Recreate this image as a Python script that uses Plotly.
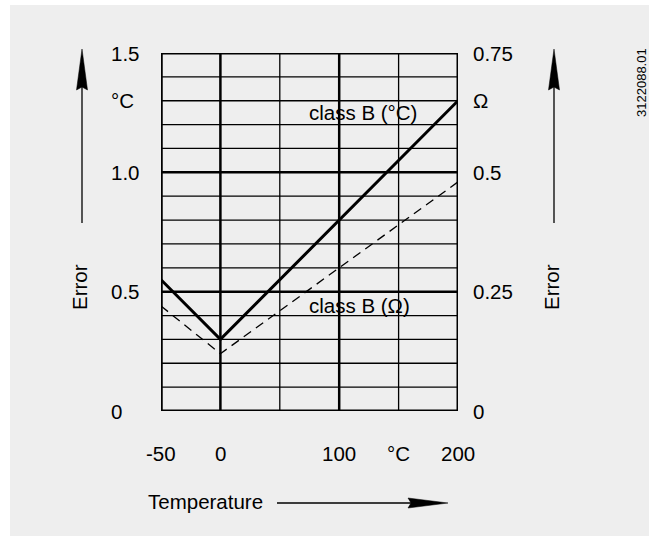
import plotly.graph_objects as go

# ---- data ----
temp = [-50, 0, 200]                 # °C
tol_degC = [0.55, 0.30, 1.30]        # class B tolerance in °C (left axis)
tol_ohm = [0.22, 0.12, 0.48]         # class B tolerance in Ω (right axis)

x_tick_vals = [-50, 0, 100, 150, 200]
x_tick_text = ["-50", "0", "100", "°C", "200"]
yl_tick_vals = [0, 0.5, 1.0, 1.3, 1.5]
yl_tick_text = ["0", "0.5", "1.0", "°C", "1.5"]
yr_tick_vals = [0, 0.25, 0.5, 0.65, 0.75]
yr_tick_text = ["0", "0.25", "0.5", "Ω", "0.75"]

x_grid = [-50, 0, 50, 100, 150, 200]
x_grid_w = [3.5, 2.5, 1.3, 2.5, 1.3, 3]
y_grid = [round(i * 0.1, 1) for i in range(16)]

FONT = "Liberation Sans, Arial, Helvetica, sans-serif"
FS = 20.5
BG = "#eeeeee"
W, H = 649, 536
L, R, T, B = 161, 458, 53, 411   # plot area in pixels


def px(xp):
    return (xp - L) / (R - L)


def py(yp):
    return (B - yp) / (B - T)


fig = go.Figure()

fig.add_trace(go.Scatter(x=temp, y=tol_degC, mode="lines",
                         line=dict(color="black", width=3), showlegend=False,
                         cliponaxis=False))
fig.add_trace(go.Scatter(x=temp, y=tol_ohm, mode="lines", yaxis="y2",
                         line=dict(color="black", width=1.3, dash="9px,6px"),
                         showlegend=False))

shapes = []
# white margins at left and top
shapes.append(dict(type="rect", xref="paper", yref="paper", layer="below",
                   x0=px(-5), x1=px(10), y0=py(H + 5), y1=py(-5),
                   fillcolor="white", line=dict(width=0)))
shapes.append(dict(type="rect", xref="paper", yref="paper", layer="below",
                   x0=px(-5), x1=px(W + 5), y0=py(5), y1=py(-5),
                   fillcolor="white", line=dict(width=0)))
# grid
for xv, w in zip(x_grid, x_grid_w):
    shapes.append(dict(type="line", xref="x", yref="y", x0=xv, x1=xv,
                       y0=0, y1=1.5, line=dict(color="black", width=w)))
for yv in y_grid:
    if yv in (0.0, 1.5):
        w = 3
    elif yv in (0.5, 1.0):
        w = 2.5
    else:
        w = 1.3
    shapes.append(dict(type="line", xref="x", yref="y", x0=-50, x1=200,
                       y0=yv, y1=yv, line=dict(color="black", width=w)))


# arrows (lines + filled heads)
def vert_arrow(xp):
    shapes.append(dict(type="line", xref="paper", yref="paper",
                       x0=px(xp), x1=px(xp), y0=py(223), y1=py(85),
                       line=dict(color="black", width=1.3)))
    shapes.append(dict(type="path", xref="paper", yref="paper",
                       path=f"M {px(xp)},{py(49)} L {px(xp-5.5)},{py(90)} "
                            f"L {px(xp)},{py(87)} L {px(xp+5.5)},{py(90)} Z",
                       fillcolor="black", line=dict(color="black", width=0.5)))


vert_arrow(82)
vert_arrow(554)
shapes.append(dict(type="line", xref="paper", yref="paper",
                   x0=px(277), x1=px(412), y0=py(503), y1=py(503),
                   line=dict(color="black", width=1.3)))
shapes.append(dict(type="path", xref="paper", yref="paper",
                   path=f"M {px(448)},{py(503)} L {px(408)},{py(498)} "
                        f"L {px(411)},{py(503)} L {px(408)},{py(508)} Z",
                   fillcolor="black", line=dict(color="black", width=0.5)))

ann = []
for v, t in zip(yl_tick_vals, yl_tick_text):
    ann.append(dict(xref="paper", yref="y", x=px(109), y=v, text=t,
                    showarrow=False, xanchor="left", yanchor="middle",
                    font=dict(size=FS)))
for v, t in zip(yr_tick_vals, yr_tick_text):
    ann.append(dict(xref="paper", yref="y2", x=px(471), y=v, text=t,
                    showarrow=False, xanchor="left", yanchor="middle",
                    font=dict(size=FS)))
for v, t in zip(x_tick_vals, x_tick_text):
    ann.append(dict(xref="x", yref="paper", x=v, y=py(453), text=t,
                    showarrow=False, xanchor="center", yanchor="middle",
                    font=dict(size=FS)))

C = dict(showarrow=False, xanchor="center", yanchor="middle")
ann += [
    dict(xref="x", yref="y", x=120, y=1.25, text="class B (°C)",
         font=dict(size=FS), **C),
    dict(xref="x", yref="y", x=117, y=0.44, text="class B (Ω)",
         font=dict(size=FS), **C),
    dict(xref="paper", yref="paper", x=px(79), y=py(287), text="Error",
         textangle=-90, font=dict(size=FS), **C),
    dict(xref="paper", yref="paper", x=px(551), y=py(287), text="Error",
         textangle=-90, font=dict(size=FS), **C),
    dict(xref="paper", yref="paper", x=px(205), y=py(501), text="Temperature",
         font=dict(size=FS), **C),
    dict(xref="paper", yref="paper", x=px(642), y=py(83), text="3122088.01",
         textangle=-90, font=dict(size=13), **C),
]

fig.update_layout(
    width=W, height=H,
    margin=dict(l=L, r=W - R, t=T, b=H - B, pad=0),
    paper_bgcolor=BG, plot_bgcolor="rgba(0,0,0,0)",
    font=dict(family=FONT, color="black", size=FS),
    xaxis=dict(range=[-50, 200], showgrid=False, zeroline=False,
               showticklabels=False, ticks="", fixedrange=True),
    yaxis=dict(range=[0, 1.5], showgrid=False, zeroline=False,
               showticklabels=False, ticks="", fixedrange=True),
    yaxis2=dict(range=[0, 0.75], overlaying="y", side="right", showgrid=False,
                zeroline=False, showticklabels=False, ticks="",
                fixedrange=True),
    shapes=shapes, annotations=ann, showlegend=False,
)

fig.write_html(
    "out.html",
    config={"displayModeBar": False},
    post_script="document.body.style.margin='0px';"
                "document.body.style.overflow='hidden';"
                f"document.body.style.background='{BG}';"
                f"document.documentElement.style.background='{BG}';",
)
